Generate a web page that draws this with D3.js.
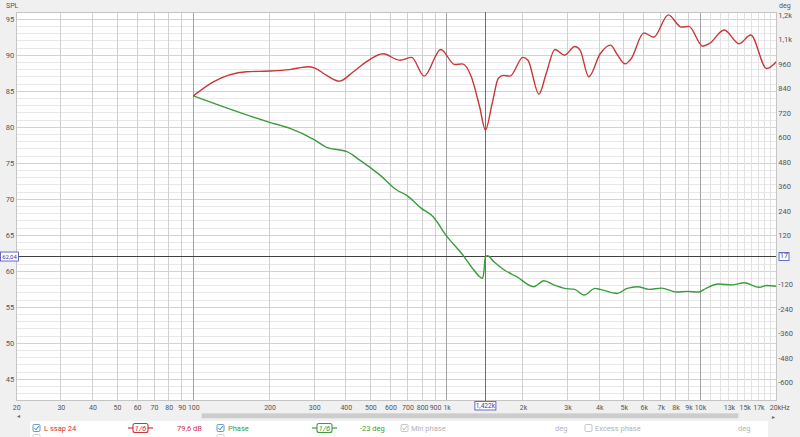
<!DOCTYPE html>
<html><head><meta charset="utf-8">
<script src="https://cdn.jsdelivr.net/npm/d3@7"></script>
<style>
html,body{margin:0;padding:0;background:#f0f0f0;}
svg{display:block;font-family:Roboto,"Noto Sans",sans-serif;}
</style></head>
<body>
<svg id="c" width="800" height="437"></svg>
<script>
// ---------- data ----------
const freqTicks = [20,30,40,50,60,70,80,90,100,200,300,400,500,600,700,800,900,1000,2000,3000,4000,5000,6000,7000,8000,9000,10000,13000,15000,17000,20000];
const freqTickLabels = ["20","30","40","50","60","70","80","90","100","200","300","400","500","600","700","800","900","1k","2k","3k","4k","5k","6k","7k","8k","9k","10k","13k","15k","17k","20kHz"];
const splTicks = [45,50,55,60,65,70,75,80,85,90,95];
const phaseTicks = [-600,-480,-360,-240,-120,120,240,360,480,600,720,840,960,1080,1200];
const phaseTickLabels = ["-600","-480","-360","-240","-120","120","240","360","480","600","720","840","960","1,1k","1,2k"];

const splFreq = [100,120,162,200,240,284,302,336,377,428,483,560,654,727,815,948,1077,1153,1251,1350,1422,1512,1600,1675,1778,2000,2094,2313,2473,2674,2917,3206,3362,3638,4036,4436,4692,5066,5344,6000,6562,7496,8437,9031,10246,10880,12460,14270,15850,18320,20000];
const splDb   = [84.35,86.3,87.7,87.8,88.0,88.4,88.2,87.2,86.4,87.7,89.1,90.2,89.3,89.7,87.1,90.8,88.7,88.8,87.0,82.8,79.6,83.3,86.8,87.2,87.1,89.7,89.3,84.6,87.5,90.8,90.0,91.2,90.7,87.0,90.2,91.4,90.2,88.8,89.5,93.1,92.5,95.6,93.9,94.0,91.25,91.6,93.5,91.6,92.8,88.15,89.1];

const phaseFreq = [100,200,241,302,336,404,454,546,635,694,795,884,1000,1146,1251,1350,1383,1400,1422,1450,1536,1689,1890,2206,2421,2657,2916,3200,3487,3849,4036,4700,5160,5660,6306,7040,8100,8850,9880,10560,11800,13380,14930,17160,18320,20000];
const phaseDeg  = [804,674,644,587,551,530,489,415,342,317,252,211,116,31,-34,-83,-91,-67,15,20,-10,-50,-83,-132,-103,-124,-140,-145,-173,-140,-145,-165,-140,-132,-145,-139,-158,-155,-158,-140,-119,-123,-113,-135,-126,-130];

const cursorFreq = 1422, cursorSpl = 62.04, cursorPhaseLabel = "17";
const extraGrid = [11000,12000,14000,16000,18000,19000];

// ---------- scales ----------
const L = 16.2, R = 776.3, T = 12, B = 400.8;
const x = d3.scaleLog().domain([20,20000]).range([L,R]);
const yS = d3.scaleLinear().domain([42,96]).range([B,T]);
const yP = d3.scaleLinear().domain([-691.5,1215]).range([B,T]);

const svg = d3.select("#c");
const red = "#c8363a", green = "#3c9c3c", blue = "#4848b8", txt = "#555";

svg.append("rect").attr("x",L).attr("y",T).attr("width",R-L).attr("height",B-T).attr("fill","#fff");

const g = svg.append("g");
d3.range(43,96).forEach(v=>{
  g.append("line").attr("x1",L).attr("x2",R).attr("y1",yS(v)).attr("y2",yS(v))
   .attr("stroke", v%5===0 ? "#d2d2d2" : "#e8e8e8").attr("stroke-width",1).attr("shape-rendering","crispEdges");
});
extraGrid.forEach(f=>{
  g.append("line").attr("x1",x(f)).attr("x2",x(f)).attr("y1",T).attr("y2",B).attr("stroke","#e2e2e2").attr("shape-rendering","crispEdges");
});
freqTicks.forEach(f=>{
  const dec = (f===100||f===1000||f===10000);
  const light = (f===13000||f===15000||f===17000);
  g.append("line").attr("x1",x(f)).attr("x2",x(f)).attr("y1",T).attr("y2",B)
   .attr("stroke", dec ? "#a4a4a4" : (light ? "#e2e2e2" : "#d0d0d0")).attr("shape-rendering","crispEdges");
});
svg.append("rect").attr("x",L).attr("y",T).attr("width",R-L).attr("height",B-T).attr("fill","none").attr("stroke","#c4c4c4").attr("shape-rendering","crispEdges");

const axL = svg.append("g").attr("transform",`translate(${L-2},0)`)
  .call(d3.axisLeft(yS).tickValues(splTicks).tickSize(0).tickPadding(0).tickFormat(d3.format("d")));
const axR = svg.append("g").attr("transform",`translate(${R+2},0)`)
  .call(d3.axisRight(yP).tickValues(phaseTicks).tickSize(0).tickPadding(0).tickFormat((d,i)=>phaseTickLabels[i]));
const axB = svg.append("g").attr("transform",`translate(0,${B+2})`)
  .call(d3.axisBottom(x).tickValues(freqTicks).tickSize(0).tickPadding(2).tickFormat((d,i)=>freqTickLabels[i]));
[axL,axR].forEach(a=>{
  a.select(".domain").remove();
  a.selectAll("text").attr("fill",txt).style("font-size","7.5px").style("font-family","Roboto,sans-serif");
});
axB.select(".domain").remove();
axB.selectAll("text").attr("fill",txt).style("font-size","7px").style("font-family","Roboto,sans-serif");
axB.selectAll("text").filter(d=>d===20000).attr("text-anchor","start").attr("dx","-7");

svg.append("text").attr("x",6).attr("y",8).text("SPL").attr("fill",txt).style("font-size","7px");
svg.append("text").attr("x",779).attr("y",8).text("deg").attr("fill",txt).style("font-size","7px");

svg.append("line").attr("x1",x(cursorFreq)).attr("x2",x(cursorFreq)).attr("y1",T).attr("y2",B).attr("stroke","#707070").attr("shape-rendering","crispEdges");
svg.append("line").attr("x1",L).attr("x2",R).attr("y1",yS(cursorSpl)).attr("y2",yS(cursorSpl)).attr("stroke","#404040").attr("shape-rendering","crispEdges");

svg.append("clipPath").attr("id","pc").append("rect").attr("x",L).attr("y",T).attr("width",R-L).attr("height",B-T);
const lineS = d3.line().x(d=>x(d[0])).y(d=>yS(d[1])).curve(d3.curveMonotoneX);
const lineP = d3.line().x(d=>x(d[0])).y(d=>yP(d[1])).curve(d3.curveMonotoneX);
svg.append("path").attr("clip-path","url(#pc)").attr("d",lineP(phaseFreq.map((f,i)=>[f,phaseDeg[i]]))).attr("fill","none").attr("stroke",green).attr("stroke-width",1.4);
svg.append("path").attr("clip-path","url(#pc)").attr("d",lineS(splFreq.map((f,i)=>[f,splDb[i]]))).attr("fill","none").attr("stroke",red).attr("stroke-width",1.4);

function box(cx,cy,w,h,label,size){
  svg.append("rect").attr("x",cx).attr("y",cy).attr("width",w).attr("height",h).attr("fill","#fff").attr("stroke",blue).attr("stroke-width",0.8);
  svg.append("text").attr("x",cx+w/2).attr("y",cy+h-2.2).attr("text-anchor","middle").text(label).attr("fill","#3a3a9a").style("font-size",size||"7px");
}
box(0.5,yS(cursorSpl)-4.5,18,9,d3.format(".2f")(cursorSpl).replace(".",","),"6px");
box(779,yP(17)-3.8,10,8,cursorPhaseLabel);
box(x(cursorFreq)-10.5,401.5,21,8.5,"1,422k","6.6px");

// scrollbar
svg.append("rect").attr("x",201.7).attr("y",413.3).attr("width",536.6).attr("height",5).attr("fill","#cdcdcd");
svg.append("text").attr("x",17).attr("y",418).text("◂").attr("fill","#666").style("font-size","6px");
svg.append("text").attr("x",772).attr("y",419).text("▸").attr("fill","#666").style("font-size","6px");

// legend panel
svg.append("rect").attr("x",30).attr("y",421).attr("width",738).attr("height",20).attr("fill","#fff");
function check(cx,cy,on,col){
  svg.append("rect").attr("x",cx).attr("y",cy).attr("width",7).attr("height",7).attr("rx",1.2).attr("fill","#fff").attr("stroke",col).attr("stroke-width",0.8);
  if(on) svg.append("path").attr("d",`M${cx+1.5},${cy+3.6} L${cx+3},${cy+5.3} L${cx+5.8},${cy+1.6}`).attr("fill","none").attr("stroke",col).attr("stroke-width",1);
}
function pill(x1,x2,bx,bw,col){
  const cy = 428;
  svg.append("line").attr("x1",x1).attr("x2",x2).attr("y1",cy).attr("y2",cy).attr("stroke",col).attr("stroke-width",1.2);
  svg.append("rect").attr("x",bx).attr("y",cy-4.5).attr("width",bw).attr("height",9).attr("rx",2).attr("fill","#fff").attr("stroke",col).attr("stroke-width",1.1);
  svg.append("text").attr("x",bx+bw/2).attr("y",cy+3).attr("text-anchor","middle").text("1/6").attr("fill",col).style("font-size","8px").style("font-style","italic");
}
const ly = 431;
check(33,424.5,true,"#3b7fc0");
svg.append("text").attr("x",44).attr("y",ly).text("L ssap 24").attr("fill",red).style("font-size","7.5px");
pill(128,153,133,15,red);
svg.append("text").attr("x",177).attr("y",ly).text("79,6 dB").attr("fill",red).style("font-size","7.5px");
check(217,424.5,true,"#3b7fc0");
svg.append("text").attr("x",228).attr("y",ly).text("Phase").attr("fill",green).style("font-size","7.5px");
pill(312,337,317,15,green);
svg.append("text").attr("x",360).attr("y",ly).text("-23 deg").attr("fill",green).style("font-size","7.5px");
check(401,424.5,true,"#b8b8b8");
svg.append("text").attr("x",411).attr("y",ly).text("Min phase").attr("fill","#b4b4b4").style("font-size","7.5px");
svg.append("text").attr("x",555).attr("y",ly).text("deg").attr("fill","#b4b4b4").style("font-size","7.5px");
check(585,424.5,false,"#b8b8b8");
svg.append("text").attr("x",595).attr("y",ly).text("Excess phase").attr("fill","#b4b4b4").style("font-size","7.5px");
svg.append("text").attr("x",738).attr("y",ly).text("deg").attr("fill","#b4b4b4").style("font-size","7.5px");
check(33,434.5,false,"#c0c0c0");
check(217,434.5,false,"#c0c0c0");
</script>
</body></html>
